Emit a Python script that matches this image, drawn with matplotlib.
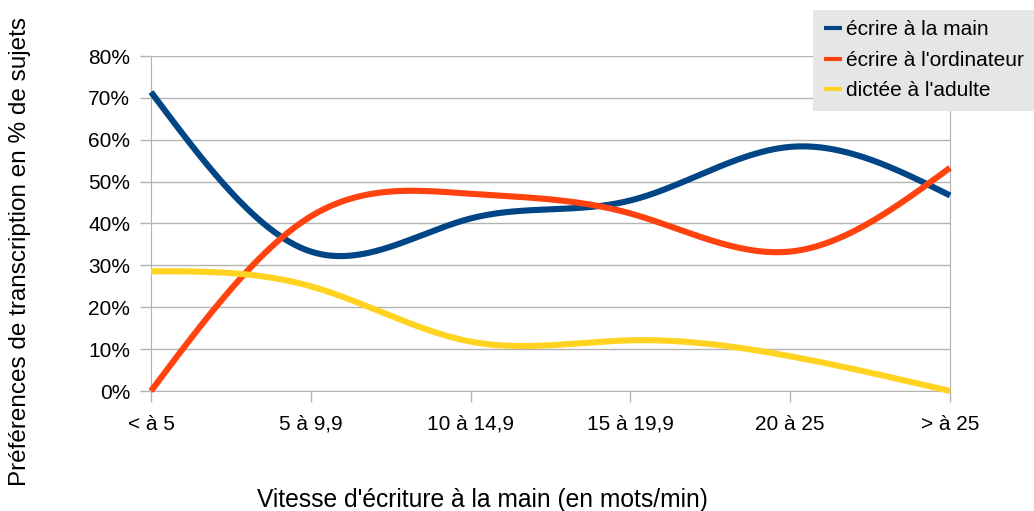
import numpy as np
import matplotlib
matplotlib.use('Agg')
import matplotlib.pyplot as plt

plt.rcParams['font.family'] = ['Liberation Sans', 'DejaVu Sans']

# Data
categories = ['< à 5', '5 à 9,9', '10 à 14,9', '15 à 19,9', '20 à 25', '> à 25']
main = [71.4, 33.3, 41.2, 45.5, 58.3, 46.7]
ordinateur = [0.0, 41.7, 47.1, 42.4, 33.3, 53.3]
adulte = [28.6, 25.0, 11.8, 12.1, 8.3, 0.0]
series_names = ["écrire à la main", "écrire à l'ordinateur", "dictée à l'adulte"]
colors = ['#004586', '#ff420e', '#ffd320']


def natural_spline(x, y, n=300):
    # natural cubic spline, used only to draw the smoothed line
    x = np.asarray(x, float)
    y = np.asarray(y, float)
    k = len(x)
    h = np.diff(x)
    A = np.zeros((k, k))
    b = np.zeros(k)
    A[0, 0] = A[-1, -1] = 1
    for i in range(1, k - 1):
        A[i, i - 1] = h[i - 1]
        A[i, i] = 2 * (h[i - 1] + h[i])
        A[i, i + 1] = h[i]
        b[i] = 6 * ((y[i + 1] - y[i]) / h[i] - (y[i] - y[i - 1]) / h[i - 1])
    M = np.linalg.solve(A, b)
    xs = np.linspace(x[0], x[-1], n)
    idx = np.clip(np.searchsorted(x, xs) - 1, 0, k - 2)
    x0, x1 = x[idx], x[idx + 1]
    hh = x1 - x0
    ys = (M[idx] * (x1 - xs) ** 3 / (6 * hh) + M[idx + 1] * (xs - x0) ** 3 / (6 * hh)
          + (y[idx] / hh - M[idx] * hh / 6) * (x1 - xs)
          + (y[idx + 1] / hh - M[idx + 1] * hh / 6) * (xs - x0))
    return xs, ys


fig = plt.figure(figsize=(10.34, 5.11), dpi=100)
ax = fig.add_axes([151 / 1034, 1 - 391 / 511, (950 - 151) / 1034, (391 - 56) / 511])

xpos = np.arange(len(categories))
for vals, name, c in zip([main, ordinateur, adulte], series_names, colors):
    xs, ys = natural_spline(xpos, vals)
    ax.plot(xs, ys, color=c, lw=4.4, label=name, clip_on=False, solid_capstyle='butt', zorder=3)

ax.set_xlim(0, 5)
ax.set_ylim(0, 80)
ax.set_yticks(range(0, 81, 10))
ax.set_yticklabels([f'{v}%' for v in range(0, 81, 10)])
ax.set_xticks(xpos)
ax.set_xticklabels(categories)
ax.grid(axis='y', color='#b3b3b3', lw=1)
ax.set_axisbelow(True)
for s in ['left', 'right', 'bottom']:
    ax.spines[s].set_color('#b3b3b3')
ax.spines['top'].set_visible(False)
ax.tick_params(axis='both', colors='#b3b3b3', labelcolor='black', labelsize=15, length=8, width=1)
ax.tick_params(axis='x', pad=9)
ax.tick_params(axis='y', pad=7)

fig.text(482 / 1034, 1 - 500 / 511, "Vitesse d'écriture à la main (en mots/min)",
         ha='center', va='center', fontsize=17.7)
fig.text(20 / 1034, 1 - 252 / 511, "Préférences de transcription en % de sujets",
         ha='center', va='center', rotation=90, fontsize=17.5)

leg = fig.legend(loc='upper right', bbox_to_anchor=(1.0, 1 - 10 / 511), fontsize=15,
                 handlelength=0.85, handletextpad=0.2, borderpad=0.5, labelspacing=0.55,
                 fancybox=False, frameon=True, borderaxespad=0)
leg.get_frame().set_facecolor('#e6e6e6')
leg.get_frame().set_edgecolor('none')
leg.get_frame().set_alpha(1)
for line in leg.get_lines():
    line.set_linewidth(3)

fig.savefig('out.png', dpi=100)
